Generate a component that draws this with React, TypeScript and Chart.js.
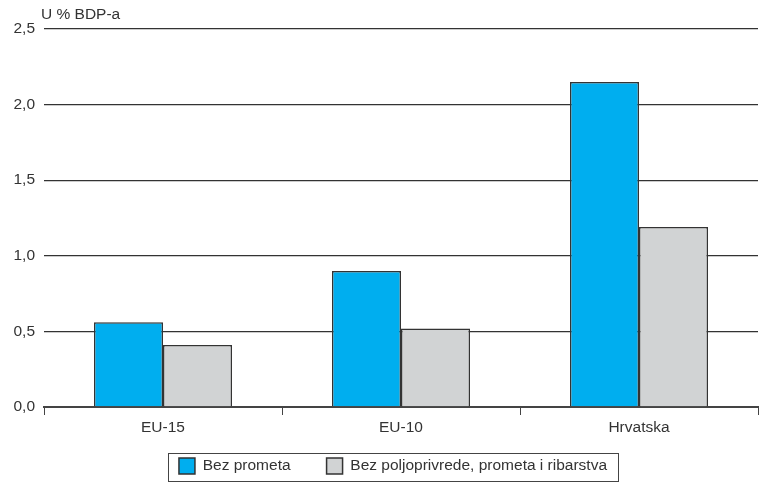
import React, { useEffect, useRef } from "react";
import { Chart, registerables } from "chart.js";

Chart.register(...registerables);

const categories = ["EU-15", "EU-10", "Hrvatska"];
const seriesNames = ["Bez prometa", "Bez poljoprivrede, prometa i ribarstva"];
const bezPrometa = [0.56, 0.9, 2.15];
const bezPoljoprivrede = [0.41, 0.52, 1.19];
const yTitle = "U % BDP-a";

const FONT = "'Liberation Sans', Arial, sans-serif";
const FS = 15.5;
const TEXT = "#333333";

const extras = {
  id: "extras",
  afterLayout(chart: any) {
    const x = chart.scales.x;
    x.bottom += 40;
    x.height += 40;
    if (chart.legend) {
      chart.legend.left += 14;
      chart.legend.right += 14;
    }
  },
  afterDraw(chart: any) {
    const ctx = chart.ctx;
    const area = chart.chartArea;
    ctx.save();
    ctx.font = `${FS}px ${FONT}`;
    ctx.fillStyle = TEXT;
    ctx.textAlign = "left";
    ctx.textBaseline = "alphabetic";
    ctx.fillText(yTitle, area.left - 3, area.top - 10);
    const hb = chart.legend && chart.legend.legendHitBoxes;
    if (hb && hb.length) {
      let l = Infinity, r = -Infinity, t = Infinity, b = -Infinity;
      hb.forEach((h: any) => {
        l = Math.min(l, h.left);
        r = Math.max(r, h.left + h.width);
        t = Math.min(t, h.top);
        b = Math.max(b, h.top + h.height);
      });
      ctx.strokeStyle = "#444";
      ctx.lineWidth = 1;
      ctx.strokeRect(Math.round(l - 11) + 0.5, Math.round(t - 5) + 0.5, Math.round(r - l + 22), Math.round(b - t + 12));
    }
    ctx.restore();
  },
};

export default function App() {
  const ref = useRef<HTMLCanvasElement>(null);
  useEffect(() => {
    if (!ref.current) return;
    const chart = new Chart(ref.current, {
      type: "bar",
      data: {
        labels: categories,
        datasets: [
          {
            label: seriesNames[0],
            data: bezPrometa,
            backgroundColor: "#00AEEF",
            borderColor: "#333",
            borderWidth: 1.5,
          },
          {
            label: seriesNames[1],
            data: bezPoljoprivrede,
            backgroundColor: "#D1D3D4",
            borderColor: "#333",
            borderWidth: 1.5,
          },
        ],
      },
      options: {
        responsive: false,
        animation: false,
        layout: { padding: { top: 29, left: 0, right: 4, bottom: 1 } },
        datasets: { bar: { categoryPercentage: 0.58, barPercentage: 1 } },
        scales: {
          x: {
            grid: { drawOnChartArea: false, drawTicks: true, tickLength: 8, color: "#444", offset: true },
            border: { color: "#444", width: 2 },
            ticks: { color: TEXT, font: { family: FONT, size: FS }, padding: 3 },
            afterFit: (s: any) => { s.height = 15; },
          },
          y: {
            min: 0,
            max: 2.5,
            grid: { color: "#333", lineWidth: 1.3, drawTicks: false },
            border: { display: false },
            ticks: {
              stepSize: 0.5,
              color: TEXT,
              font: { family: FONT, size: FS },
              padding: 9,
              callback: (v: any) => Number(v).toFixed(1).replace(".", ","),
            },
            afterFit: (s: any) => { s.width = 44; },
          },
        },
        plugins: {
          legend: {
            position: "bottom",
            labels: {
              boxWidth: 16,
              boxHeight: 16,
              padding: 36,
              color: TEXT,
              font: { family: FONT, size: FS },
            },
          },
          tooltip: { enabled: false },
        },
      },
      plugins: [extras],
    });
    return () => chart.destroy();
  }, []);
  return (
    <div style={{ position: "absolute", left: 0, top: 0, width: 762, height: 485, background: "#fff" }}>
      <canvas ref={ref} width={762} height={485} />
    </div>
  );
}
